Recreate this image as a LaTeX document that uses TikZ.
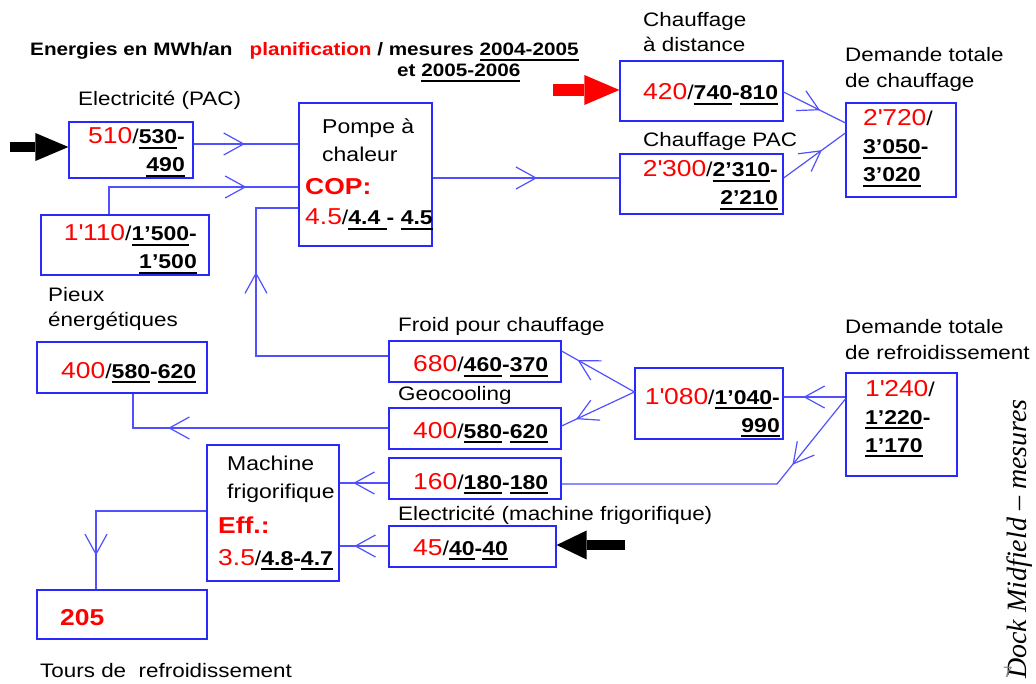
\documentclass[tikz,border=0pt]{standalone}
\usepackage{fontspec}
\setmainfont{Liberation Sans}[FakeStretch=1.15]
\newfontfamily\dockfont{Liberation Serif}
\usetikzlibrary{arrows.meta,decorations.markings}

\definecolor{planred}{RGB}{255,0,0}
\definecolor{boxblue}{RGB}{40,40,255}
\definecolor{flowblue}{RGB}{80,80,255}

% planned value in red, measured values bold and underlined
\newcommand\plan[1]{{\color{planred}\fontsize{23}{28}\selectfont #1}}
\newsavebox\mesbox
\newcommand\mes[1]{\sbox\mesbox{\bfseries #1}\rlap{\rule[-5pt]{\wd\mesbox}{2.4pt}}\usebox\mesbox}
\newcommand\redbf[1]{\textcolor{planred}{\fontsize{23}{28}\selectfont\bfseries #1}}

\tikzset{
  box/.style={draw=boxblue, line width=1.2pt, inner sep=0pt},
  val/.style={inner sep=0pt, font=\fontsize{20}{28}\selectfont},
  lbl/.style={inner sep=0pt, anchor=base west, font=\fontsize{19.5}{24}\selectfont},
  flow/.style={color=flowblue, line width=1.2pt, postaction={decorate},
    decoration={markings, mark=at position #1 with {\arrow{Straight Barb[length=20pt,width=22pt]}}}},
  fat/.style={line width=10pt, -{Triangle[length=33pt,width=28pt,line width=0pt]}},
}

\begin{document}
\begin{tikzpicture}[x=1pt, y=-1pt]
    \useasboundingbox (0,0) rectangle (1036,684);

    % Title
    \node[lbl, font=\fontsize{18}{22}\bfseries] (title) at (30,56) {Energies en MWh/an\hspace{17pt}\textcolor{planred}{planification} / mesures \mes{2004-2005}};
    \node[lbl, font=\fontsize{18}{22}\bfseries] (titleB) at (397,77) {et \mes{2005-2006}};

    % Boxes
    \node[box, minimum width=124pt, minimum height=56pt] (elec) at (131,150) {};
    \node[box, minimum width=168pt, minimum height=60pt] (src) at (125,245) {};
    \node[box, minimum width=133pt, minimum height=143pt] (pac) at (365.5,174.5) {};
    \node[box, minimum width=163pt, minimum height=60pt] (dist) at (701.5,91) {};
    \node[box, minimum width=163pt, minimum height=60pt] (chpac) at (701.5,184) {};
    \node[box, minimum width=110pt, minimum height=94pt] (dch) at (901,150) {};
    \node[box, minimum width=170pt, minimum height=51pt] (pieux) at (122,367.5) {};
    \node[box, minimum width=172pt, minimum height=41pt] (froid) at (475,361.5) {};
    \node[box, minimum width=172pt, minimum height=41pt] (geo) at (475,428.5) {};
    \node[box, minimum width=172pt, minimum height=41pt] (c160) at (475,478.5) {};
    \node[box, minimum width=167pt, minimum height=41pt] (elmf) at (472.5,546.5) {};
    \node[box, minimum width=148pt, minimum height=71pt] (cool) at (709,403.5) {};
    \node[box, minimum width=111pt, minimum height=103pt] (dref) at (901.5,424.5) {};
    \node[box, minimum width=132pt, minimum height=136pt] (mach) at (273,513) {};
    \node[box, minimum width=170pt, minimum height=49pt] (tours) at (122,614.5) {};

    % Values (multi-line nodes sit on their last line)
    \node[val, anchor=base east, align=right] (elecV) at (185,172) {\plan{510}/\mes{530}\textbf{-}\\\mes{490}};
    \node[val, anchor=base east, align=right] (srcV) at (197,269) {\plan{1\textquotesingle110}/\mes{1'500}\textbf{-}\\\mes{1'500}};
    \node[val, anchor=base west, align=left] (pacV) at (305,225) {\hspace*{17pt}Pompe à\\\hspace*{17pt}chaleur\\[5pt]\redbf{COP:}\\[2pt]\plan{4.5}/\mes{4.4 }\textbf{-} \mes{4.5}};
    \node[val, anchor=base west] (distV) at (643,100) {\plan{420}/\mes{740}\textbf{-}\mes{810}};
    \node[val, anchor=base east, align=right] (chpacV) at (778,205) {\plan{2\textquotesingle300}/\mes{2'310}\textbf{-}\\\mes{2'210}};
    \node[val, anchor=base west, align=left] (dchV) at (863,182) {\plan{2\textquotesingle720}/\\\mes{3'050}\textbf{-}\\\mes{3'020}};
    \node[val, anchor=base west] (pieuxV) at (61,378) {\plan{400}/\mes{580}\textbf{-}\mes{620}};
    \node[val, anchor=base west] (froidV) at (413,372) {\plan{680}/\mes{460}\textbf{-}\mes{370}};
    \node[val, anchor=base west] (geoV) at (413,438) {\plan{400}/\mes{580}\textbf{-}\mes{620}};
    \node[val, anchor=base west] (c160V) at (413,489) {\plan{160}/\mes{180}\textbf{-}\mes{180}};
    \node[val, anchor=base west] (elmfV) at (413,555) {\plan{45}/\mes{40}\textbf{-}\mes{40}};
    \node[val, anchor=base east, align=right] (coolV) at (780,432) {\plan{1\textquotesingle080}/\mes{1'040}\textbf{-}\\\mes{990}};
    \node[val, anchor=base west, align=left] (drefV) at (865,452) {\plan{1\textquotesingle240}/\\\mes{1'220}\textbf{-}\\\mes{1'170}};
    \node[val, anchor=base west, align=left] (machV) at (218,565) {\hspace*{9pt}Machine\\\hspace*{9pt}frigorifique\\[7pt]\redbf{Eff.:}\\[4pt]\plan{3.5}/\mes{4.8}\textbf{-}\mes{4.7}};
    \node[val, anchor=base west] (toursV) at (60,625) {\redbf{205}};

    % Labels
    \node[lbl] (tElec) at (78,106) {Electricité (PAC)};
    \node[lbl] (tDistA) at (643,27) {Chauffage};
    \node[lbl] (tDistB) at (643,52) {à distance};
    \node[lbl] (tChPac) at (643,147) {Chauffage PAC};
    \node[lbl] (tDchA) at (845,62) {Demande totale};
    \node[lbl] (tDchB) at (845,88) {de chauffage};
    \node[lbl] (tPieuxA) at (48,302) {Pieux};
    \node[lbl] (tPieuxB) at (48,327) {énergétiques};
    \node[lbl] (tFroid) at (398,332) {Froid pour chauffage};
    \node[lbl] (tGeo) at (398,400) {Geocooling};
    \node[lbl] (tDrefA) at (845,334) {Demande totale};
    \node[lbl] (tDrefB) at (845,360) {de refroidissement};
    \node[lbl] (tElmf) at (398,520) {Electricité (machine frigorifique)};
    \node[lbl] (tTours) at (40,677) {Tours de\ \ refroidissement};

    % Heating side
    \draw[flow=.49] (elec.east |- 0,144) -- (pac.west |- 0,144);
    \draw[flow=.76] (109,0 |- src.north) |- (pac.west |- 0,187);
    \draw[flow=.67] (froid.west |- 0,356) -| (256,208) -- (pac.west |- 0,208);
    \draw[flow=.56] (pac.east |- 0,178) -- (chpac.west |- 0,178);
    \draw[flow=.59] (dist.east |- 0,92) -- (dch.west |- 0,123);
    \draw[flow=.62] (chpac.east |- 0,178) -- (dch.west |- 0,133);

    % Cooling side
    \draw[flow=.68] (dref.west |- 0,397) -- (cool.east |- 0,397);
    \draw[flow=.26] (dref.west |- 0,399) -- (777,484) -- (c160.east |- 0,484);
    \draw[flow=.78] (cool.west |- 0,392) -- (froid.east |- 0,351);
    \draw[flow=.8] (cool.west |- 0,392) -- (geo.east |- 0,426);
    \draw[flow=.76] (geo.west |- 0,428) -| (133,0 |- pieux.south);
    \draw[flow=.72] (c160.west |- 0,483) -- (mach.east |- 0,483);
    \draw[flow=.7] (elmf.west |- 0,546) -- (mach.east |- 0,546);
    \draw[flow=.82] (mach.west |- 0,511) -| (96,0 |- tours.north);

    % Inputs
    \draw[fat] (10,147) -- (elec.west |- 0,147);
    \draw[fat, planred, line width=12pt, -{Triangle[length=35pt,width=30pt,line width=0pt]}] (553,90) -- (dist.west |- 0,90);
    \draw[fat, -{Triangle[length=30pt,width=29pt,line width=0pt]}] (625,545) -- (elmf.east |- 0,545);

    % Side text
    \node[rotate=90, anchor=base west, inner sep=0pt, font=\dockfont\itshape\fontsize{28}{28}\selectfont] (dock) at (1026,679) {Dock Midfield – mesures};
    \node[inner sep=0pt, anchor=base west, text=gray, font=\fontsize{15}{15}\selectfont] (pageno) at (1003,677) {7};
\end{tikzpicture}
\end{document}
